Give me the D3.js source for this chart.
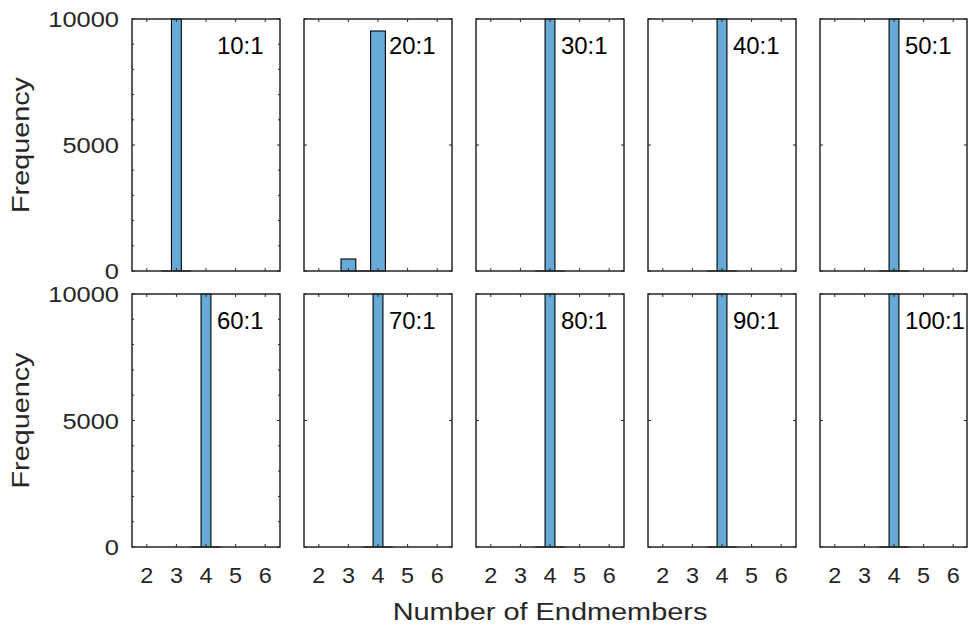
<!DOCTYPE html>
<html>
<head>
<meta charset="utf-8">
<script src="https://cdn.jsdelivr.net/npm/d3@7"></script>
<style>
  html, body { margin: 0; padding: 0; background: #fff; }
  svg { display: block; font-family: "Liberation Sans", Arial, Helvetica, sans-serif; }
</style>
</head>
<body>
<svg id="chart" width="968" height="631"></svg>
<script>
// Mixing ratio of each simulation (panel titles)
const ratios = ["10:1", "20:1", "30:1", "40:1", "50:1", "60:1", "70:1", "80:1", "90:1", "100:1"];
// Histogram bin edges for each panel (number of endmembers)
const binEdges = [
  [2.5, 2.8333, 3.1667, 3.5],
  [2.75, 3.25, 3.75, 4.25],
  [3.5, 3.8333, 4.1667, 4.5],
  [3.5, 3.8333, 4.1667, 4.5],
  [3.5, 3.8333, 4.1667, 4.5],
  [3.5, 3.8333, 4.1667, 4.5],
  [3.5, 3.8333, 4.1667, 4.5],
  [3.5, 3.8333, 4.1667, 4.5],
  [3.5, 3.8333, 4.1667, 4.5],
  [3.5, 3.8333, 4.1667, 4.5]
];
// Counts per bin
const binCounts = [
  [0, 10000, 0],
  [476, 0, 9524],
  [0, 10000, 0],
  [0, 10000, 0],
  [0, 10000, 0],
  [0, 10000, 0],
  [0, 10000, 0],
  [0, 10000, 0],
  [0, 10000, 0],
  [0, 10000, 0]
];
const xTicks = [2, 3, 4, 5, 6];
const yTicks = [0, 5000, 10000];
const yMinorTicks = [1000, 2000, 3000, 4000, 6000, 7000, 8000, 9000];
const xDomain = [1.5, 6.5];
const yDomain = [0, 10000];
const labelPos = 4.37;

const svg = d3.select("#chart");
const axisColor = "#262626";
const barFill = "#66AAD7";

const nCols = 5;
const colLeft = 132, colStep = 172, panelW = 148;
const rowTop = [19, 294], panelH = [252, 253];

// text helper: wide-set sans glyphs via horizontal stretch
function label(parent, x, y, str, opts) {
  const o = Object.assign({ size: 22.5, sx: 1, anchor: "start", rotate: 0, fill: axisColor }, opts);
  return parent.append("text")
    .attr("transform", `translate(${x},${y}) rotate(${o.rotate}) scale(${o.sx},1)`)
    .attr("text-anchor", o.anchor)
    .attr("font-size", o.size)
    .attr("fill", o.fill)
    .text(str);
}

ratios.forEach((ratio, i) => {
  const col = i % nCols, row = Math.floor(i / nCols);
  const left = colLeft + col * colStep;
  const top = rowTop[row];
  const w = col === nCols - 1 ? panelW - 1 : panelW;
  const h = panelH[row];

  const x = d3.scaleLinear().domain(xDomain).range([0, panelW]);
  const y = d3.scaleLinear().domain(yDomain).range([h, 0]);

  const g = svg.append("g").attr("transform", `translate(${left},${top})`);

  // histogram bins
  const bins = binCounts[i].map((c, k) => ({ x0: binEdges[i][k], x1: binEdges[i][k + 1], count: c }));
  g.selectAll("rect.bar").data(bins.filter(b => b.count > 0)).join("rect")
    .attr("class", "bar")
    .attr("x", d => x(d.x0))
    .attr("width", d => x(d.x1) - x(d.x0))
    .attr("y", d => y(d.count))
    .attr("height", d => y(0) - y(d.count))
    .attr("fill", barFill)
    .attr("stroke", "#000")
    .attr("stroke-width", 1.1);
  // empty bins drawn as flat outlines
  g.selectAll("line.zero").data(bins.filter(b => b.count === 0)).join("line")
    .attr("class", "zero")
    .attr("x1", d => x(d.x0)).attr("x2", d => x(d.x1))
    .attr("y1", y(0)).attr("y2", y(0))
    .attr("stroke", "#000").attr("stroke-width", 1.1);

  // inner tick marks on all four sides
  const tickG = g.append("g").attr("stroke", axisColor).attr("stroke-width", 1);
  xTicks.forEach(t => {
    tickG.append("line").attr("x1", x(t)).attr("x2", x(t)).attr("y1", h).attr("y2", h - 3);
    tickG.append("line").attr("x1", x(t)).attr("x2", x(t)).attr("y1", 0).attr("y2", 3);
  });
  yTicks.forEach(t => {
    tickG.append("line").attr("x1", 0).attr("x2", 3).attr("y1", y(t)).attr("y2", y(t));
    tickG.append("line").attr("x1", w).attr("x2", w - 3).attr("y1", y(t)).attr("y2", y(t));
  });
  if (col === 0) {
    yMinorTicks.forEach(t => {
      tickG.append("line").attr("x1", 0).attr("x2", 2).attr("y1", y(t)).attr("y2", y(t));
      tickG.append("line").attr("x1", w).attr("x2", w - 2).attr("y1", y(t)).attr("y2", y(t));
    });
  }

  // axis box
  g.append("rect")
    .attr("x", 0).attr("y", 0).attr("width", w).attr("height", h)
    .attr("fill", "none").attr("stroke", axisColor).attr("stroke-width", 1.5);

  // tick labels
  if (col === 0) {
    yTicks.forEach(t => {
      label(g, -13, y(t) + 8, d3.format("d")(t), { anchor: "end", sx: 1.13 });
    });
  }
  if (row === 1) {
    xTicks.forEach(t => {
      label(g, x(t), h + 36, d3.format("d")(t), { anchor: "middle", sx: 1.04 });
    });
  }

  // ratio label
  label(g, x(labelPos), y(8620), ratio, { size: 23.5, sx: 1.02, fill: "#000" });

  // y-axis title
  if (col === 0) {
    label(svg, 28.5, top + h / 2, "Frequency", { size: 24, sx: 1.2, rotate: -90, anchor: "middle" });
  }
});

// x-axis title
label(svg, 550, 620, "Number of Endmembers", { size: 24.5, sx: 1.18, anchor: "middle" });
</script>
</body>
</html>
